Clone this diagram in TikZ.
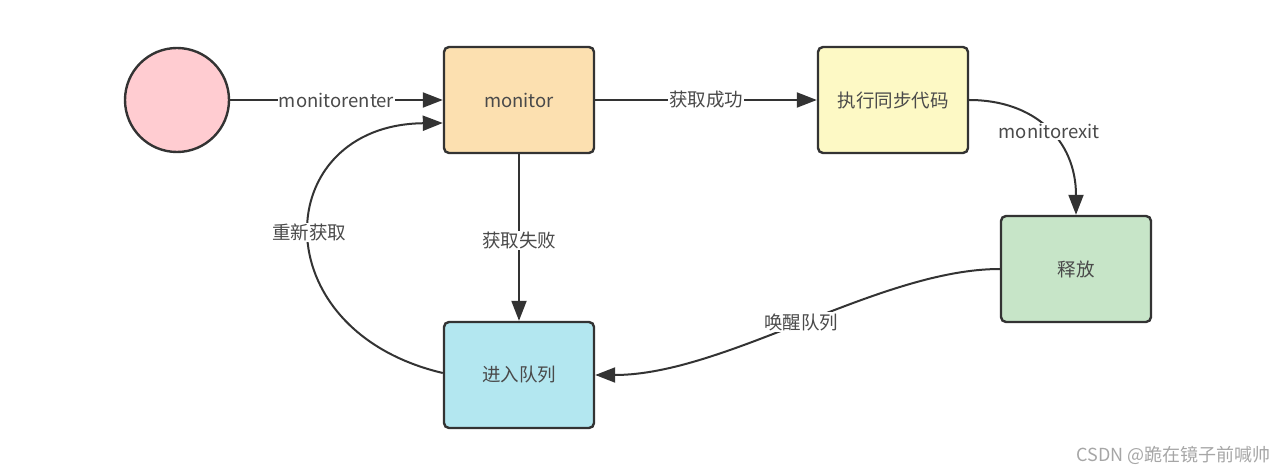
\documentclass[tikz,border=0pt]{standalone}
\usepackage{fontspec}
\setmainfont{Noto Sans CJK SC}
\usetikzlibrary{arrows.meta}
\definecolor{edge}{HTML}{333333}
\definecolor{txt}{HTML}{4A4A4A}
\definecolor{pinkc}{HTML}{FFCCD1}
\definecolor{orangec}{HTML}{FCE0B0}
\definecolor{yellowc}{HTML}{FDF9C5}
\definecolor{greenc}{HTML}{C7E5C8}
\definecolor{bluec}{HTML}{B3E7F0}
\tikzset{
  statebox/.style={draw=edge, line width=2.4pt, rounded corners=5pt, minimum width=150pt, minimum height=106pt, inner sep=0pt, text=txt, font=\fontsize{18.5}{22}\selectfont},
  conn/.style={draw=edge, line width=2pt, -{Triangle[length=20pt,width=15pt]}},
  lbl/.style={fill=white, inner sep=1pt, text=txt, font=\fontsize{18.5}{22}\selectfont},
}
\begin{document}
\begin{tikzpicture}[x=1pt,y=-1pt]
\useasboundingbox (0,0) rectangle (1285,473);
\node[circle, draw=edge, line width=2.4pt, fill=pinkc, minimum size=104pt, inner sep=0pt] (start) at (177,100) {};
\node[statebox, fill=orangec] (mon) at (519,100) {monitor};
\node[statebox, fill=yellowc] (exec) at (893,100) {执行同步代码};
\node[statebox, fill=greenc] (rel) at (1076,269) {释放};
\node[statebox, fill=bluec] (queue) at (519,375) {进入队列};

\draw[conn] (start.east) -- node[lbl, pos=0.5] {monitorenter} (mon.west);
\draw[conn] (mon.east) -- node[lbl, pos=0.5] {获取成功} (exec.west);
\draw[conn] (exec.east) .. controls +(65,0) and +(0,-75) .. node[lbl, pos=0.52] {monitorexit} (rel.north);
\draw[conn] (mon.south) -- node[lbl, pos=0.52] {获取失败} (queue.north);
\draw[conn] (rel.west) .. controls +(-120,0) and +(130,0) .. node[lbl, pos=0.5] {唤醒队列} (queue.east);
\coordinate (qin) at ([yshift=2pt]queue.west);
\coordinate (min) at ([yshift=-23pt]mon.west);
\draw[conn] (qin) .. controls (260,330) and (270,125) .. node[lbl, pos=0.5] {重新获取} (min);

\node[text=gray!70, font=\fontsize{18}{21}\selectfont, anchor=east, inner sep=0pt] (wm) at (1271,455) {CSDN @跪在镜子前喊帅};
\end{tikzpicture}
\end{document}
